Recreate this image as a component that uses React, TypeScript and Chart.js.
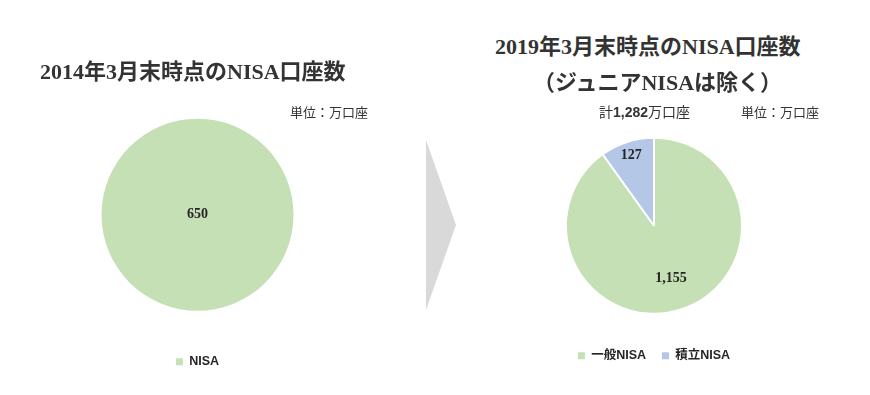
import React, { useEffect, useRef } from "react";
import { Chart, registerables } from "chart.js";

Chart.register(...registerables);

const leftCategories = ["NISA"];
const leftValues = [650];
const rightCategories = ["一般NISA", "積立NISA"];
const rightValues = [1155, 127];
const sliceColors = ["#c5e0b4", "#b4c7e7"];
const leftTitle = "2014年3月末時点のNISA口座数";
const rightTitle1 = "2019年3月末時点のNISA口座数";
const rightTitle2 = "（ジュニアNISAは除く）";
const unitLabel = "単位：万口座";
const totalPrefix = "計";
const totalValue = "1,282";
const totalSuffix = "万口座";
const labelRadiusFractions = [0.63, 0.84];

const CJK = '"Noto Sans CJK JP"';
const SERIF = `"Liberation Serif", ${CJK}, serif`;
const SANS = `"Liberation Sans", Arial, ${CJK}, sans-serif`;

const fmt = (v: number) => v.toLocaleString("en-US");

const labelPlugin = {
  id: "sliceLabels",
  afterDatasetsDraw(chart: any) {
    const ctx = chart.ctx;
    const meta = chart.getDatasetMeta(0);
    const data = chart.data.datasets[0].data as number[];
    ctx.save();
    ctx.font = `bold 14px "Liberation Serif", serif`;
    ctx.fillStyle = "#262626";
    ctx.textAlign = "center";
    ctx.textBaseline = "middle";
    meta.data.forEach((arc: any, i: number) => {
      const p = arc.getProps(["x", "y", "startAngle", "endAngle", "outerRadius", "circumference"], true);
      let x = p.x;
      let y = p.y;
      if (p.circumference < Math.PI * 2 - 0.001) {
        const mid = (p.startAngle + p.endAngle) / 2;
        const r = p.outerRadius * (labelRadiusFractions[i] ?? 0.6);
        x = p.x + Math.cos(mid) * r;
        y = p.y + Math.sin(mid) * r;
      }
      ctx.fillText(fmt(data[i]), x, y);
    });
    ctx.restore();
  },
};

function makePie(
  canvas: HTMLCanvasElement,
  labels: string[],
  values: number[],
  padding: any,
  radius: number,
  borderWidth: number
) {
  return new Chart(canvas, {
    type: "pie",
    data: {
      labels,
      datasets: [
        {
          data: values,
          backgroundColor: sliceColors.slice(0, values.length),
          borderColor: "#ffffff",
          borderWidth,
          radius,
        },
      ],
    },
    options: {
      responsive: false,
      animation: false,
      layout: { padding },
      plugins: {
        tooltip: { enabled: false },
        legend: {
          position: "bottom",
          labels: {
            boxWidth: 7,
            boxHeight: 7,
            padding: 16,
            color: "#262626",
            font: { family: SANS, size: 12.5, weight: "bold" },
            generateLabels(chart: any) {
              const items = Chart.overrides.pie.plugins.legend.labels.generateLabels(chart);
              return items.map((it: any) => ({ ...it, lineWidth: 0, strokeStyle: "rgba(0,0,0,0)" }));
            },
          },
        },
      },
    },
    plugins: [labelPlugin],
  } as any);
}

export default function App() {
  const leftRef = useRef<HTMLCanvasElement>(null);
  const rightRef = useRef<HTMLCanvasElement>(null);

  useEffect(() => {
    const a = makePie(leftRef.current!, leftCategories, leftValues, { top: 10, bottom: 0, left: 0, right: 0 }, 96, 0);
    const b = makePie(rightRef.current!, rightCategories, rightValues, { top: 18, bottom: 0, left: 0, right: 0 }, 88, 2);
    return () => {
      a.destroy();
      b.destroy();
    };
  }, []);

  const abs = (s: React.CSSProperties): React.CSSProperties => ({ position: "absolute", whiteSpace: "nowrap", ...s });

  return (
    <div style={{ position: "absolute", left: 0, top: 0, width: 870, height: 395, background: "#fff", overflow: "hidden" }}>
      <canvas ref={leftRef} width={395} height={298} style={abs({ left: 0, top: 80, width: 395, height: 298 })} />
      <canvas ref={rightRef} width={388} height={272} style={abs({ left: 460, top: 100, width: 388, height: 272 })} />

      <div style={abs({ left: 40, top: 58, fontFamily: SERIF, fontSize: 22, lineHeight: "28px", color: "#333", fontWeight: "bold" })}>
        {leftTitle}
      </div>
      <div style={abs({ left: 290, top: 104, fontFamily: SANS, fontSize: 13, lineHeight: "17px", color: "#333" })}>{unitLabel}</div>

      <div
        style={abs({
          left: 426,
          top: 140,
          width: 30,
          height: 170,
          background: "#d9d9d9",
          clipPath: "polygon(0 0, 100% 50%, 0 100%)",
        })}
      />

      <div style={abs({ left: 495, top: 33, fontFamily: SERIF, fontSize: 22, lineHeight: "28px", color: "#333", fontWeight: "bold" })}>
        {rightTitle1}
      </div>
      <div style={abs({ left: 533, top: 69, fontFamily: SERIF, fontSize: 22, lineHeight: "28px", color: "#333", fontWeight: "bold" })}>
        {rightTitle2}
      </div>
      <div style={abs({ left: 599, top: 103, fontFamily: SANS, fontSize: 14, lineHeight: "18px", color: "#333" })}>
        {totalPrefix}
        <b>{totalValue}</b>
        {totalSuffix}
      </div>
      <div style={abs({ left: 741, top: 104, fontFamily: SANS, fontSize: 13, lineHeight: "17px", color: "#333" })}>{unitLabel}</div>
    </div>
  );
}
